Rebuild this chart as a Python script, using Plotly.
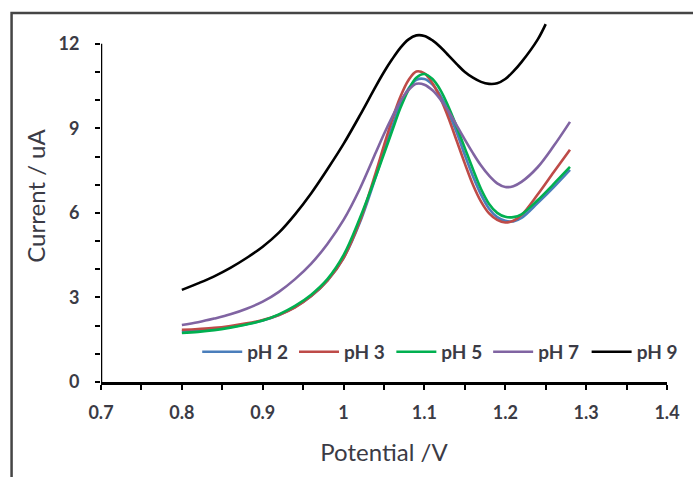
import plotly.graph_objects as go

# Potential sweep (V): coarse on the foot of the wave, fine around the peak
potential = [0.80, 0.82, 0.84, 0.86, 0.88, 0.90, 0.92, 0.94, 0.96, 0.98, 1.00, 1.02, 1.04,
             1.05, 1.06, 1.07, 1.08, 1.09, 1.10, 1.11, 1.12, 1.13, 1.14, 1.15, 1.16, 1.17,
             1.18, 1.19, 1.20, 1.21, 1.22, 1.24, 1.26, 1.28]
potential_ph9 = [0.80, 0.82, 0.84, 0.86, 0.88, 0.90, 0.92, 0.94, 0.96, 0.98, 1.00, 1.02, 1.04,
                 1.05, 1.06, 1.07, 1.08, 1.09, 1.10, 1.11, 1.12, 1.13, 1.14, 1.15, 1.16, 1.17,
                 1.18, 1.19, 1.20, 1.21, 1.22, 1.24, 1.25]

# Current (uA) at each pH
current_ph2 = [1.80, 1.83, 1.88, 1.95, 2.05, 2.18, 2.38, 2.66, 3.05, 3.60, 4.40, 5.65, 7.30,
               8.20, 9.05, 9.85, 10.40, 10.72, 10.75, 10.55, 10.15, 9.55, 8.85, 8.05, 7.30, 6.65,
               6.15, 5.85, 5.72, 5.70, 5.82, 6.35, 6.92, 7.53]
current_ph3 = [1.85, 1.88, 1.92, 1.99, 2.08, 2.20, 2.38, 2.65, 3.05, 3.60, 4.40, 5.70, 7.45,
               8.40, 9.30, 10.10, 10.70, 11.02, 10.95, 10.60, 10.05, 9.35, 8.55, 7.75, 7.00, 6.40,
               5.98, 5.75, 5.66, 5.72, 5.92, 6.65, 7.45, 8.24]
current_ph5 = [1.74, 1.78, 1.84, 1.93, 2.04, 2.18, 2.40, 2.70, 3.10, 3.65, 4.50, 5.80, 7.30,
               8.10, 8.90, 9.70, 10.35, 10.80, 10.93, 10.75, 10.35, 9.75, 9.05, 8.30, 7.55, 6.85,
               6.32, 6.00, 5.86, 5.85, 5.95, 6.45, 7.03, 7.63]
current_ph7 = [2.02, 2.12, 2.25, 2.40, 2.60, 2.85, 3.20, 3.65, 4.20, 4.90, 5.75, 6.85, 8.15,
               8.80, 9.40, 9.95, 10.35, 10.58, 10.55, 10.35, 10.02, 9.60, 9.10, 8.60, 8.12, 7.68,
               7.32, 7.05, 6.92, 6.95, 7.10, 7.62, 8.38, 9.23]
current_ph9 = [3.27, 3.50, 3.75, 4.05, 4.40, 4.80, 5.30, 5.95, 6.70, 7.55, 8.45, 9.45, 10.50,
               11.00, 11.45, 11.85, 12.15, 12.30, 12.28, 12.12, 11.88, 11.58, 11.28, 11.00, 10.80,
               10.65, 10.58, 10.60, 10.75, 11.02, 11.35, 12.15, 12.70]

series_names = ["pH 2", "pH 3", "pH 5", "pH 7", "pH 9"]
series_colors = ["#4a7ebb", "#be4b48", "#00b050", "#8064a2", "#000000"]
series_x = [potential, potential, potential, potential, potential_ph9]
series_y = [current_ph2, current_ph3, current_ph5, current_ph7, current_ph9]

x_ticks = [0.7, 0.8, 0.9, 1.0, 1.1, 1.2, 1.3, 1.4]
x_tick_text = ["0.7", "0.8", "0.9", "1", "1.1", "1.2", "1.3", "1.4"]
x_minor = [0.75, 0.85, 0.95, 1.05, 1.15, 1.25, 1.35]
y_ticks = [0, 3, 6, 9, 12]
y_minor = [1, 2, 4, 5, 7, 8, 10, 11]

FONT = "Lato, 'Open Sans', sans-serif"
TEXT = "#3b3b45"

# one single-entry legend per series, laid out in a row along the bottom
legend_ids = ["legend", "legend2", "legend3", "legend4", "legend5"]
legend_x = [0.170, 0.341, 0.513, 0.684, 0.858]

fig = go.Figure()
for name, color, xs, ys, lid in zip(series_names, series_colors, series_x, series_y, legend_ids):
    fig.add_trace(go.Scatter(
        x=xs, y=ys, name=name, mode="lines", legend=lid,
        line=dict(color=color, width=2.6, shape="spline", smoothing=1.0),
    ))

legend_style = dict(
    orientation="h", y=0.081, xanchor="left", yanchor="middle",
    font=dict(family=FONT, size=19, color=TEXT, weight="bold"),
    itemwidth=40, bgcolor="rgba(0,0,0,0)", borderwidth=0,
)
fig.update_layout({lid: dict(legend_style, x=lx) for lid, lx in zip(legend_ids, legend_x)})

fig.update_layout(
    width=693, height=477,
    margin=dict(l=101, r=16, t=10, b=95),
    paper_bgcolor="white", plot_bgcolor="white",
    font=dict(family=FONT, color=TEXT),
    showlegend=True,
    xaxis=dict(
        range=[0.7, 1.4], tickvals=x_ticks, ticktext=x_tick_text,
        showgrid=False, zeroline=False,
        showline=True, linecolor="black", linewidth=2.5,
        ticks="outside", ticklen=5, tickwidth=2, tickcolor="black",
        ticklabelstandoff=8,
        tickfont=dict(family=FONT, size=18, color=TEXT, weight="bold"),
        minor=dict(tickvals=x_minor, ticks="outside", ticklen=5, tickwidth=2,
                   tickcolor="black", showgrid=False),
        title=dict(text="Potential /V", standoff=22,
                   font=dict(family=FONT, size=24, color=TEXT)),
    ),
    yaxis=dict(
        range=[0, 13.2], tickvals=y_ticks,
        showgrid=False, zeroline=False, showline=False,
        ticks="outside", ticklen=5, tickwidth=2, tickcolor="black",
        ticklabelstandoff=12,
        tickfont=dict(family=FONT, size=18, color=TEXT, weight="bold"),
        minor=dict(tickvals=y_minor, ticks="outside", ticklen=5, tickwidth=2,
                   tickcolor="black", showgrid=False),
        title=dict(text="Current / uA", standoff=6,
                   font=dict(family=FONT, size=24, color=TEXT)),
    ),
)

# vertical axis line stops at the top tick
fig.add_shape(type="line", xref="x", yref="y", x0=0.7, x1=0.7, y0=0, y1=12,
              line=dict(color="black", width=2.5))

# chart-area frame around the whole figure
fig.add_shape(type="rect", xref="paper", yref="paper",
              x0=-0.158, x1=1.3, y0=-0.5, y1=0.992,
              line=dict(color="#454545", width=2.5), fillcolor="rgba(0,0,0,0)",
              layer="below")

fig.write_html("out.html")
